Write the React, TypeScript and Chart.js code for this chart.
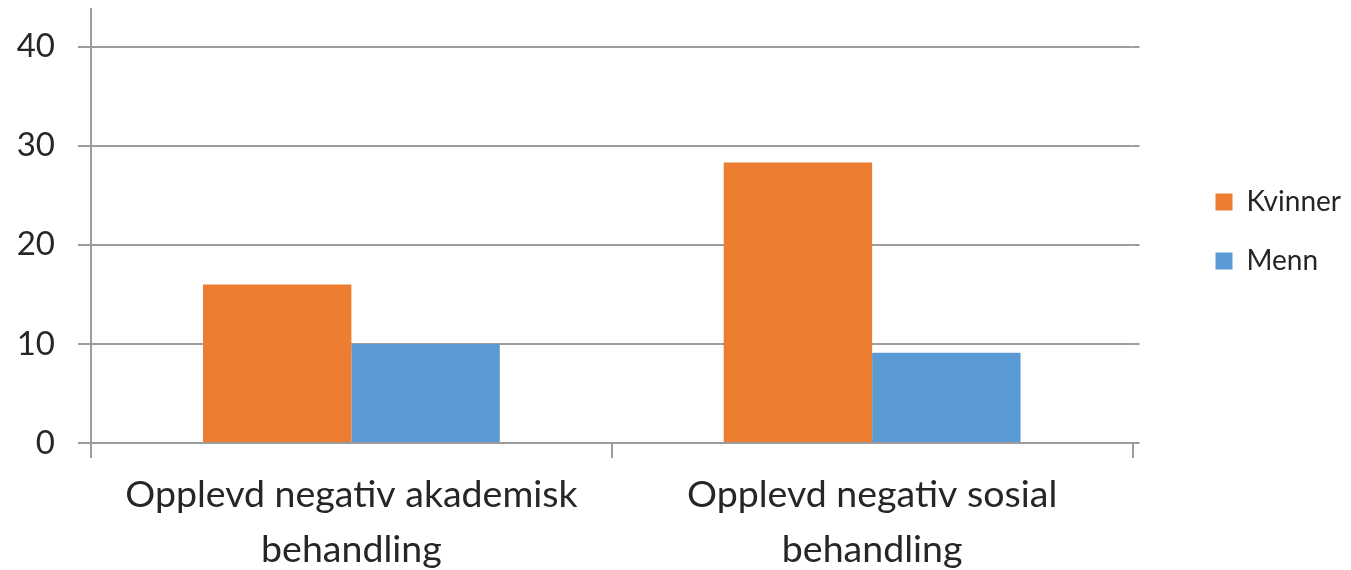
import React, { useEffect, useRef } from "react";
import { Chart, registerables } from "chart.js";

Chart.register(...registerables);

// Category labels (two lines each)
const categories: string[][] = [
  ["Opplevd negativ akademisk", "behandling"],
  ["Opplevd negativ sosial", "behandling"],
];

// Series values
const kvinner: number[] = [16, 28.3];
const menn: number[] = [10, 9.1];

// Value axis
const yMax = 43.8;
const yStep = 10;

const FONT = "Lato, 'Open Sans', sans-serif";
const TEXT = "#262626";
const GRID = "#9c9c9c";

// Carries the horizontal gridlines a few pixels past the plot's right edge
const gridTail = {
  id: "gridTail",
  beforeDatasetsDraw(chart: any) {
    const { ctx, chartArea, scales } = chart;
    const y = scales.y;
    ctx.save();
    ctx.strokeStyle = GRID;
    ctx.lineWidth = 2;
    y.ticks.forEach((t: any) => {
      const py = Math.round(y.getPixelForValue(t.value));
      ctx.beginPath();
      ctx.moveTo(chartArea.right, py);
      ctx.lineTo(chartArea.right + 7, py);
      ctx.stroke();
    });
    ctx.restore();
  },
};

export default function App() {
  const canvasRef = useRef<HTMLCanvasElement | null>(null);

  useEffect(() => {
    if (!canvasRef.current) return;
    const chart = new Chart(canvasRef.current, {
      type: "bar",
      data: {
        labels: categories,
        datasets: [
          {
            label: "Kvinner",
            data: kvinner,
            backgroundColor: "#ED7D31",
            borderWidth: 0,
            categoryPercentage: 0.57,
            barPercentage: 1,
          },
          {
            label: "Menn",
            data: menn,
            backgroundColor: "#5B9BD5",
            borderWidth: 0,
            categoryPercentage: 0.57,
            barPercentage: 1,
          },
        ],
      },
      plugins: [gridTail],
      options: {
        animation: false,
        responsive: true,
        maintainAspectRatio: false,
        layout: { padding: { top: 9, left: 0, right: 0, bottom: 0 } },
        font: { family: FONT },
        plugins: {
          tooltip: { enabled: false },
          legend: {
            position: "right",
            align: "start",
            title: {
              display: true,
              text: "",
              font: { family: FONT, size: 10, lineHeight: 1 },
              padding: { top: 138, bottom: 0 },
            },
            labels: {
              boxWidth: 17,
              boxHeight: 17,
              padding: 31,
              color: TEXT,
              font: { family: FONT, size: 28 },
            },
          },
        },
        scales: {
          x: {
            offset: true,
            grid: {
              offset: true,
              drawOnChartArea: false,
              drawTicks: true,
              tickLength: 15,
              color: GRID,
              lineWidth: 2,
            },
            border: { display: true, color: GRID, width: 2 },
            ticks: {
              color: TEXT,
              font: { family: FONT, size: 37.5, lineHeight: 1.45 },
              padding: 10,
              maxRotation: 0,
              autoSkip: false,
            },
            afterFit: (s: any) => {
              s.height = 127;
              s.paddingLeft = 0;
              s.paddingRight = 0;
            },
          },
          y: {
            min: 0,
            max: yMax,
            grid: {
              color: GRID,
              lineWidth: 2,
              drawTicks: true,
              tickLength: 13,
            },
            border: { display: true, color: GRID, width: 2 },
            ticks: {
              stepSize: yStep,
              includeBounds: false,
              color: TEXT,
              padding: 23,
              font: { family: FONT, size: 33 },
            },
            afterBuildTicks: (s: any) => {
              s.ticks = s.ticks.filter((t: any) => t.value % yStep === 0);
            },
            afterFit: (s: any) => {
              s.width = 91;
              s.paddingTop = 0;
              s.paddingBottom = 0;
            },
          },
          // spacer between the plot and the legend
          gap: {
            position: "right",
            display: true,
            grid: { display: false },
            border: { display: false },
            ticks: { display: false },
            afterFit: (s: any) => {
              s.width = 52;
              s.paddingTop = 0;
              s.paddingBottom = 0;
            },
          },
        },
      },
    });
    return () => chart.destroy();
  }, []);

  return (
    <div style={{ position: "fixed", left: 0, top: 0, width: 1351, height: 570, background: "#fff" }}>
      <canvas ref={canvasRef} />
    </div>
  );
}
